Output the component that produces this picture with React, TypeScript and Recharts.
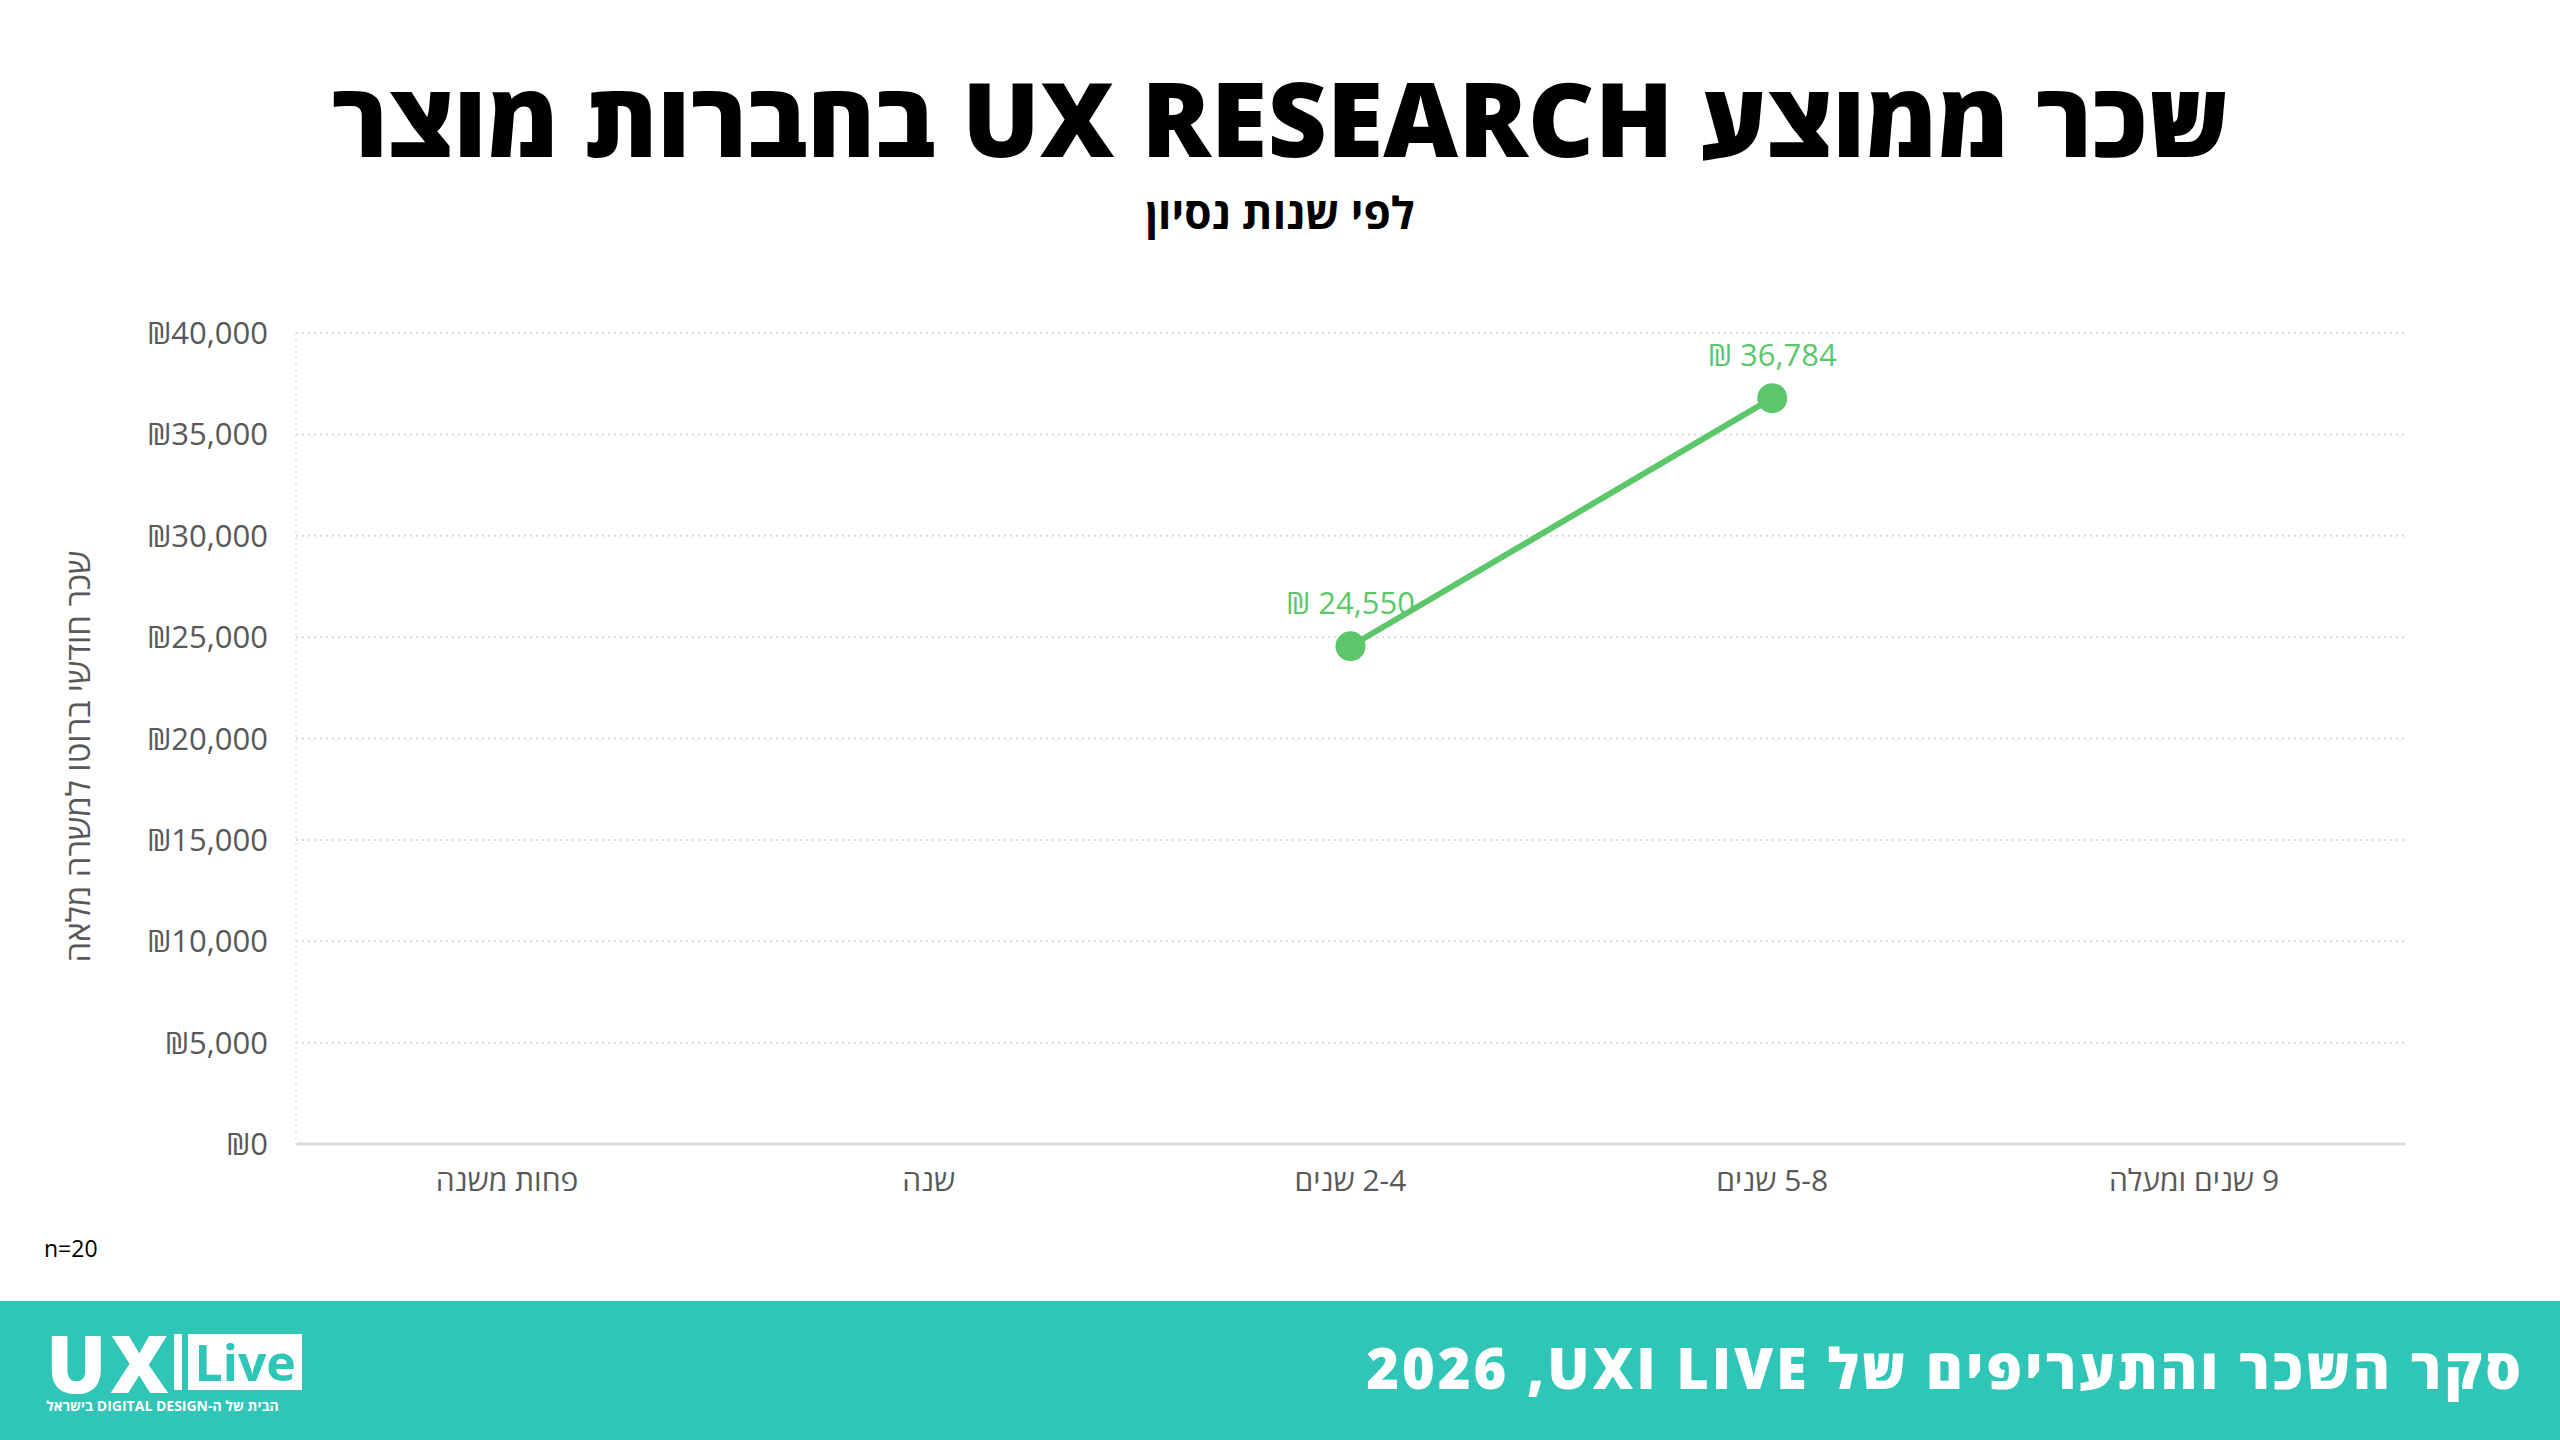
import { LineChart, Line, XAxis, YAxis, CartesianGrid, LabelList } from "recharts";

// experience buckets, left to right as drawn
const categories = ["פחות משנה", "שנה", "2-4 שנים", "5-8 שנים", "9 שנים ומעלה"];
// average monthly gross salary (₪); empty buckets had no answers
const salaries: (number | null)[] = [null, null, 24550, 36784, null];
const yTicks = [0, 5000, 10000, 15000, 20000, 25000, 30000, 35000, 40000];

const TEAL = "#2fc5b7";
const GREEN = "#5cc76a";
const AXIS_TEXT = "#595959";
const FONT = "'Open Sans', 'DejaVu Sans', sans-serif";

const data = categories.map((exp, i) => ({ exp, salary: salaries[i] }));

const fmtShekel = (v: number) => `₪${v.toLocaleString("en-US")}`;
// eslint-disable-next-line @typescript-eslint/no-explicit-any
const fmtLabel = (v: any) => (v == null ? "" : `₪ ${Number(v).toLocaleString("en-US")}`);

// rotated axis title, sits a little below the plot's middle like the original
// eslint-disable-next-line @typescript-eslint/no-explicit-any
function YTitle(props: any) {
  const vb = props.viewBox || {};
  const x = 77;
  const y = (vb.y ?? 0) + (vb.height ?? 0) / 2 + 18;
  return (
    <text
      x={x}
      y={y}
      transform={`rotate(-90, ${x}, ${y})`}
      textAnchor="middle"
      dominantBaseline="central"
      fill={AXIS_TEXT}
      fontSize={33}
      fontFamily={FONT}
      direction="rtl"
    >
      שכר חודשי ברוטו למשרה מלאה
    </text>
  );
}

export default function App() {
  return (
    <div
      style={{
        position: "absolute",
        top: 0,
        left: 0,
        width: 2560,
        height: 1440,
        background: "#fff",
        overflow: "hidden",
        fontFamily: FONT,
      }}
    >
      <div
        dir="rtl"
        style={{
          position: "absolute",
          top: 52,
          left: 0,
          width: 2560,
          textAlign: "center",
          fontSize: 103,
          fontWeight: 800,
          lineHeight: "130px",
          color: "#000",
        }}
      >
        שכר ממוצע UX RESEARCH בחברות מוצר
      </div>
      <div
        dir="rtl"
        style={{
          position: "absolute",
          top: 184,
          left: 0,
          width: 2560,
          textAlign: "center",
          fontSize: 44,
          fontWeight: 700,
          lineHeight: "56px",
          color: "#000",
        }}
      >
        לפי שנות נסיון
      </div>

      <div style={{ position: "absolute", top: 0, left: 0 }}>
        <LineChart
          width={2560}
          height={1440}
          data={data}
          margin={{ top: 333, right: 155, bottom: 236, left: 40 }}
        >
          <CartesianGrid vertical={false} stroke="#dadada" strokeDasharray="2 4" strokeWidth={2} />
          <XAxis
            dataKey="exp"
            height={60}
            padding={{ left: 211, right: 211 }}
            axisLine={{ stroke: "#d9d9d9", strokeWidth: 3 }}
            tickLine={false}
            tick={{ fill: AXIS_TEXT, fontSize: 30, fontFamily: FONT, direction: "rtl" }}
            tickMargin={20}
            interval={0}
          />
          <YAxis
            width={256}
            domain={[0, 40000]}
            ticks={yTicks}
            tickFormatter={fmtShekel}
            axisLine={{ stroke: "#e8e8e8", strokeDasharray: "2 4", strokeWidth: 2 }}
            tickLine={false}
            tickMargin={22}
            tick={{ fill: AXIS_TEXT, fontSize: 31, fontFamily: FONT }}
            label={<YTitle />}
          />
          <Line
            dataKey="salary"
            stroke={GREEN}
            strokeWidth={6}
            dot={{ r: 15, fill: GREEN, stroke: "none" }}
            activeDot={false}
            isAnimationActive={false}
          >
            <LabelList
              dataKey="salary"
              position="top"
              offset={32}
              formatter={fmtLabel}
              style={{ fill: GREEN, fontSize: 31, fontFamily: FONT }}
            />
          </Line>
        </LineChart>
      </div>

      <div style={{ position: "absolute", left: 44, top: 1232, fontSize: 23, color: "#000" }}>n=20</div>

      <div style={{ position: "absolute", left: 0, top: 1301, width: 2560, height: 139, background: TEAL }}>
        <div style={{ position: "absolute", left: 46, top: 33, display: "flex", alignItems: "center" }}>
          <span style={{ color: "#fff", fontSize: 80, fontWeight: 800, lineHeight: "56px", letterSpacing: 4 }}>UX</span>
          <span style={{ width: 8, height: 56, background: "#fff", margin: "0 6px 0 2px" }} />
          <span
            style={{
              background: "#fff",
              color: TEAL,
              fontSize: 50,
              fontWeight: 700,
              lineHeight: "56px",
              padding: "0 6px",
            }}
          >
            Live
          </span>
        </div>
        <div
          dir="rtl"
          style={{
            position: "absolute",
            left: 46,
            top: 95,
            width: 258,
            fontSize: 14,
            fontWeight: 700,
            color: "#fff",
            whiteSpace: "nowrap",
            textAlign: "left",
          }}
        >
          הבית של ה-DIGITAL DESIGN בישראל
        </div>
        <div
          dir="rtl"
          style={{
            position: "absolute",
            right: 36,
            top: 31,
            fontSize: 56,
            fontWeight: 800,
            lineHeight: "70px",
            letterSpacing: 3,
            color: "#fff",
            whiteSpace: "nowrap",
          }}
        >
          סקר השכר והתעריפים של UXI LIVE{"\u200F"}, 2026
        </div>
      </div>
    </div>
  );
}
